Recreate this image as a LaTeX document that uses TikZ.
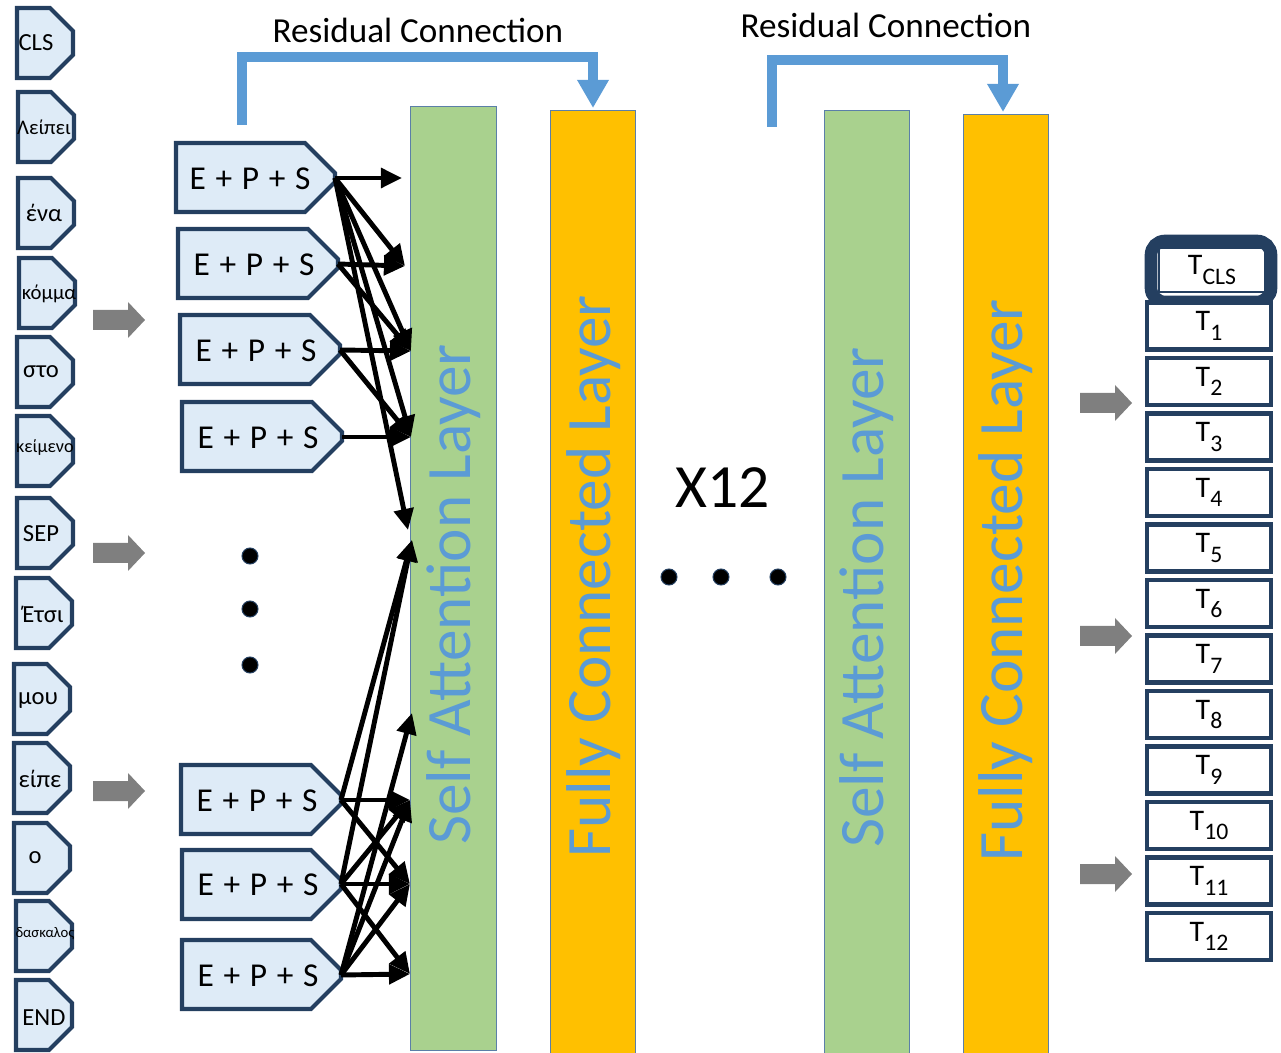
\documentclass[tikz,border=0pt]{standalone}
\usepackage{fontspec}
\setmainfont{Carlito}
\usetikzlibrary{arrows.meta}
\definecolor{tokfill}{HTML}{DEEBF7}
\definecolor{tokdraw}{HTML}{243F60}
\definecolor{greenbar}{HTML}{A9D18E}
\definecolor{orangebar}{HTML}{FFC000}
\definecolor{barline}{HTML}{5B7FA8}
\definecolor{resblue}{HTML}{5B9BD5}
\definecolor{grayarrow}{HTML}{7F7F7F}
\newcommand{\chev}[6]{%
  \draw[#1] (#2,#3) -- ({#2+#4-#6},#3) -- ({#2+#4},{#3+#6}) -- ({#2+#4},{#3+#5-#6}) -- ({#2+#4-#6},{#3+#5}) -- (#2,{#3+#5}) -- cycle;}
\newcommand{\blockarrow}[2]{%
  \fill[grayarrow] (#1,{#2-10}) -- ({#1+35},{#2-10}) -- ({#1+35},{#2-18}) -- ({#1+52},#2) -- ({#1+35},{#2+18}) -- ({#1+35},{#2+10}) -- (#1,{#2+10}) -- cycle;}
\newcommand{\tsub}[1]{T\raisebox{-5.5pt}{\fontsize{13.5pt}{13.5pt}\selectfont #1}}
\newcommand{\eps}{E\hspace{5.5pt}+\hspace{5.5pt}P\hspace{5.5pt}+\hspace{5.5pt}S}
\begin{document}
\begin{tikzpicture}[x=0.02cm,y=-0.02cm,
  tokshape/.style={fill=tokfill,draw=tokdraw,line width=2.3pt,line join=miter},
  epsshape/.style={fill=tokfill,draw=tokdraw,line width=2.3pt,line join=miter},
  toktext/.style={inner sep=0pt,font=\fontsize{14pt}{14pt}\selectfont},
  epstext/.style={inner sep=0pt,font=\fontsize{19pt}{19pt}\selectfont},
  bar/.style={draw=barline,line width=0.8pt,anchor=north west,inner sep=0pt},
  bartext/.style={rotate=90,anchor=base west,inner sep=0pt,text=resblue,font=\fontsize{36pt}{36pt}\selectfont},
  att/.style={line width=2.8pt,-{Triangle[length=12pt,width=11pt]}},
  res/.style={draw=resblue,line width=5.7pt,line join=miter,-{Triangle[length=16pt,width=17pt]}},
  reslabel/.style={inner sep=0pt,font=\fontsize{20pt}{20pt}\selectfont},
  dotnode/.style={circle,fill=black,draw=tokdraw,line width=0.6pt,minimum size=0.32cm,inner sep=0pt},
  tbox/.style={draw=tokdraw,line width=2.3pt,fill=white,minimum width=2.48cm,minimum height=0.94cm,inner sep=0pt,font=\fontsize{17pt}{17pt}\selectfont}
]
\useasboundingbox (0,0) rectangle (1281,1053);

% ---------- bars ----------
\node[bar,fill=greenbar,minimum width=1.72cm,minimum height=18.88cm] (sa1) at (410,106) {};
\node[bar,fill=orangebar,minimum width=1.70cm,minimum height=18.86cm] (fc1) at (550,110) {};
\node[bar,fill=greenbar,minimum width=1.70cm,minimum height=18.86cm] (sa2) at (824,110) {};
\node[bar,fill=orangebar,minimum width=1.70cm,minimum height=18.78cm] (fc2) at (963,114) {};
\node[bartext] (sa1t) at (470,845) {Self Attention Layer};
\node[bartext] (fc1t) at (610,858) {Fully Connected Layer};
\node[bartext] (sa2t) at (883,848) {Self Attention Layer};
\node[bartext] (fc2t) at (1022,862) {Fully Connected Layer};

% ---------- residual connections ----------
\node[reslabel] (rl1) at (418,30) {Residual Connection};
\node[reslabel] (rl2) at (886,25) {Residual Connection};
\coordinate (r1a) at (242,125);
\coordinate (r1b) at (593,57);
\coordinate (r2a) at (772,127);
\coordinate (r2b) at (1003,60);
\coordinate (r1t) at (593,108);
\coordinate (r2t) at (1003,112);
\draw[res] (r1a) |- (r1b) -- (r1t);
\draw[res] (r2a) |- (r2b) -- (r2t);

% ---------- input tokens ----------
\chev{tokshape}{17}{8}{56}{70}{23}
\node[toktext] (tcls) at (36,43) {CLS};
\chev{tokshape}{18}{92}{56}{70}{23}
\node[toktext,font=\fontsize{11.8pt}{12pt}\selectfont] (t1) at (44,127) {Λείπει};
\chev{tokshape}{18}{178}{56}{70}{23}
\node[toktext] (t2) at (44,213) {ένα};
\chev{tokshape}{19}{258}{56}{70}{23}
\node[toktext,font=\fontsize{11.8pt}{12pt}\selectfont] (t3) at (49,294) {κόμμα};
\chev{tokshape}{17}{337}{56}{70}{23}
\node[toktext] (t4) at (41,372) {στο};
\chev{tokshape}{17}{416}{56}{70}{23}
\node[toktext,font=\fontsize{10.4pt}{11pt}\selectfont] (t5) at (45,448) {κείμενο};
\chev{tokshape}{17}{498}{56}{70}{23}
\node[toktext] (tsep) at (41,534) {SEP};
\chev{tokshape}{16}{578}{56}{70}{23}
\node[toktext] (t6) at (43,614) {Έτσι};
\chev{tokshape}{14}{664}{56}{70}{23}
\node[toktext] (t7) at (38,701) {μου};
\chev{tokshape}{14}{743}{56}{70}{23}
\node[toktext] (t8) at (40,779) {είπε};
\chev{tokshape}{14}{823}{56}{70}{23}
\node[toktext] (t9) at (35,858) {ο};
\chev{tokshape}{16}{901}{56}{70}{23}
\node[toktext,font=\fontsize{8.4pt}{9pt}\selectfont] (t10) at (45,934) {δασκαλος};
\chev{tokshape}{16}{980}{56}{70}{23}
\node[toktext] (tend) at (44,1018) {END};

% ---------- gray arrows ----------
\blockarrow{93}{320}
\blockarrow{93}{553}
\blockarrow{93}{791}
\blockarrow{1080}{403}
\blockarrow{1080}{636}
\blockarrow{1080}{874}

% ---------- embeddings ----------
\chev{epsshape}{176}{143}{159}{69}{30}
\node[epstext] (eps1) at (250,179) {\eps};
\chev{epsshape}{178}{229}{160}{69}{30}
\node[epstext] (eps2) at (254,265) {\eps};
\chev{epsshape}{180}{315}{160}{69}{30}
\node[epstext] (eps3) at (256,351) {\eps};
\chev{epsshape}{182}{402}{160}{69}{30}
\node[epstext] (eps4) at (258,438) {\eps};
\chev{epsshape}{181}{765}{160}{69}{30}
\node[epstext] (eps5) at (257,801) {\eps};
\chev{epsshape}{182}{850}{159}{69}{30}
\node[epstext] (eps6) at (258,885) {\eps};
\chev{epsshape}{182}{940}{159}{69}{30}
\node[epstext] (eps7) at (258,976) {\eps};

\coordinate (e1) at (335,178);
\coordinate (e2) at (338,264);
\coordinate (e3) at (340,350);
\coordinate (e4) at (342,437);
\coordinate (e5) at (341,800);
\coordinate (e6) at (341,884);
\coordinate (e7) at (341,975);

\coordinate (a1) at (402,178);
\coordinate (a2) at (405,266);
\coordinate (a3) at (411,351);
\coordinate (a4) at (411,437);
\coordinate (a5) at (408,530);
\coordinate (b1) at (412,540);
\coordinate (b2) at (412,713);
\coordinate (b3) at (410,800);
\coordinate (b4) at (410,884);
\coordinate (b5) at (410,974);

\draw[att] (e1) -- (a1);
\draw[att] (e1) -- (a2);
\draw[att] (e1) -- (a3);
\draw[att] (e1) -- (a4);
\draw[att] (e1) -- (a5);
\draw[att] (e2) -- (a2);
\draw[att] (e2) -- (a3);
\draw[att] (e3) -- (a3);
\draw[att] (e3) -- (a4);
\draw[att] (e4) -- (a4);

\draw[att] (e5) -- (b1);
\draw[att] (e5) -- (b3);
\draw[att] (e5) -- (b4);
\draw[att] (e6) -- (b1);
\draw[att] (e6) -- (b3);
\draw[att] (e6) -- (b4);
\draw[att] (e6) -- (b5);
\draw[att] (e7) -- (b2);
\draw[att] (e7) -- (b3);
\draw[att] (e7) -- (b4);
\draw[att] (e7) -- (b5);

% ---------- dots ----------
\node[dotnode] (d1) at (250,556) {};
\node[dotnode] (d2) at (250,609) {};
\node[dotnode] (d3) at (250,665) {};
\node[dotnode] (d4) at (669,577) {};
\node[dotnode] (d5) at (721,577) {};
\node[dotnode] (d6) at (778,577) {};
\node[inner sep=0pt,font=\fontsize{35pt}{35pt}\selectfont] (x12) at (723,488) {X12};

% ---------- outputs ----------
\node[tbox,minimum width=2.12cm,minimum height=0.88cm,line width=1pt] (tocls) at (1212,270) {\tsub{CLS}};
\draw[draw=tokdraw,line width=7.2pt,rounded corners=0.28cm] (1151,241) rectangle (1271,302);
\foreach \k in {1,...,12}{
  \node[tbox] (to\k) at (1209,{326+(\k-1)*55.5}) {\tsub{\k}};
}
\end{tikzpicture}
\end{document}
